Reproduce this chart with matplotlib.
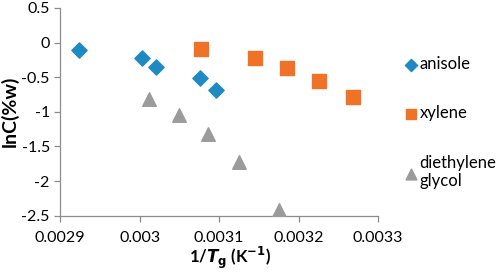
import matplotlib
matplotlib.use("Agg")
import matplotlib.pyplot as plt

plt.rcParams['font.family'] = ['Lato', 'DejaVu Sans']

anisole_x = [0.002923, 0.003003, 0.003021, 0.003076, 0.003096]
anisole_y = [-0.11, -0.23, -0.355, -0.51, -0.69]
xylene_x = [0.003077, 0.003145, 0.003185, 0.003226, 0.003268]
xylene_y = [-0.09, -0.22, -0.37, -0.555, -0.78]
deg_x = [0.003012, 0.003049, 0.003086, 0.003125, 0.003175]
deg_y = [-0.82, -1.04, -1.32, -1.73, -2.42]

xticks = [0.0029, 0.003, 0.0031, 0.0032, 0.0033]
xtick_labels = ['0.0029', '0.003', '0.0031', '0.0032', '0.0033']
yticks = [-2.5, -2, -1.5, -1, -0.5, 0, 0.5]
ytick_labels = ['-2.5', '-2', '-1.5', '-1', '-0.5', '0', '0.5']

fig = plt.figure(figsize=(4.98, 2.73), dpi=100)
ax = fig.add_axes([0.121, 0.21, 0.638, 0.761])

ax.scatter(anisole_x, anisole_y, marker='D', s=60, color='#1F8AC2', label='anisole', zorder=3)
ax.scatter(xylene_x, xylene_y, marker='s', s=95, color='#F07226', label='xylene', zorder=3)
ax.scatter(deg_x, deg_y, marker='^', s=95, color='#9B9B9B', label='diethylene\nglycol', zorder=3)

ax.set_xlim(0.0029, 0.0033)
ax.set_ylim(-2.5, 0.5)
ax.set_xticks(xticks)
ax.set_xticklabels(xtick_labels)
ax.set_yticks(yticks)
ax.set_yticklabels(ytick_labels)

for s in ['top', 'right']:
    ax.spines[s].set_visible(False)
for s in ['left', 'bottom']:
    ax.spines[s].set_color('#8C8C8C')
    ax.spines[s].set_linewidth(0.9)
ax.tick_params(axis='both', colors='#8C8C8C', labelcolor='black', labelsize=11.5, length=4, width=0.9)
ax.tick_params(axis='x', pad=7)

ax.set_ylabel('lnC(%w)', fontsize=14, fontweight='bold', labelpad=2)
ax.set_xlabel(r'1/$\boldsymbol{T}_{\mathbf{g}}$ (K$^{\mathbf{-1}}$)', fontsize=12, fontweight='bold', labelpad=0)
ax.xaxis.set_label_coords(0.535, -0.14)

leg = ax.legend(loc='upper left', bbox_to_anchor=(1.06, 0.80), frameon=False, fontsize=12,
                handletextpad=0.05, labelspacing=2.0, handlelength=0.9, markerscale=0.8,
                borderaxespad=0)

fig.savefig('out.png', dpi=100)
